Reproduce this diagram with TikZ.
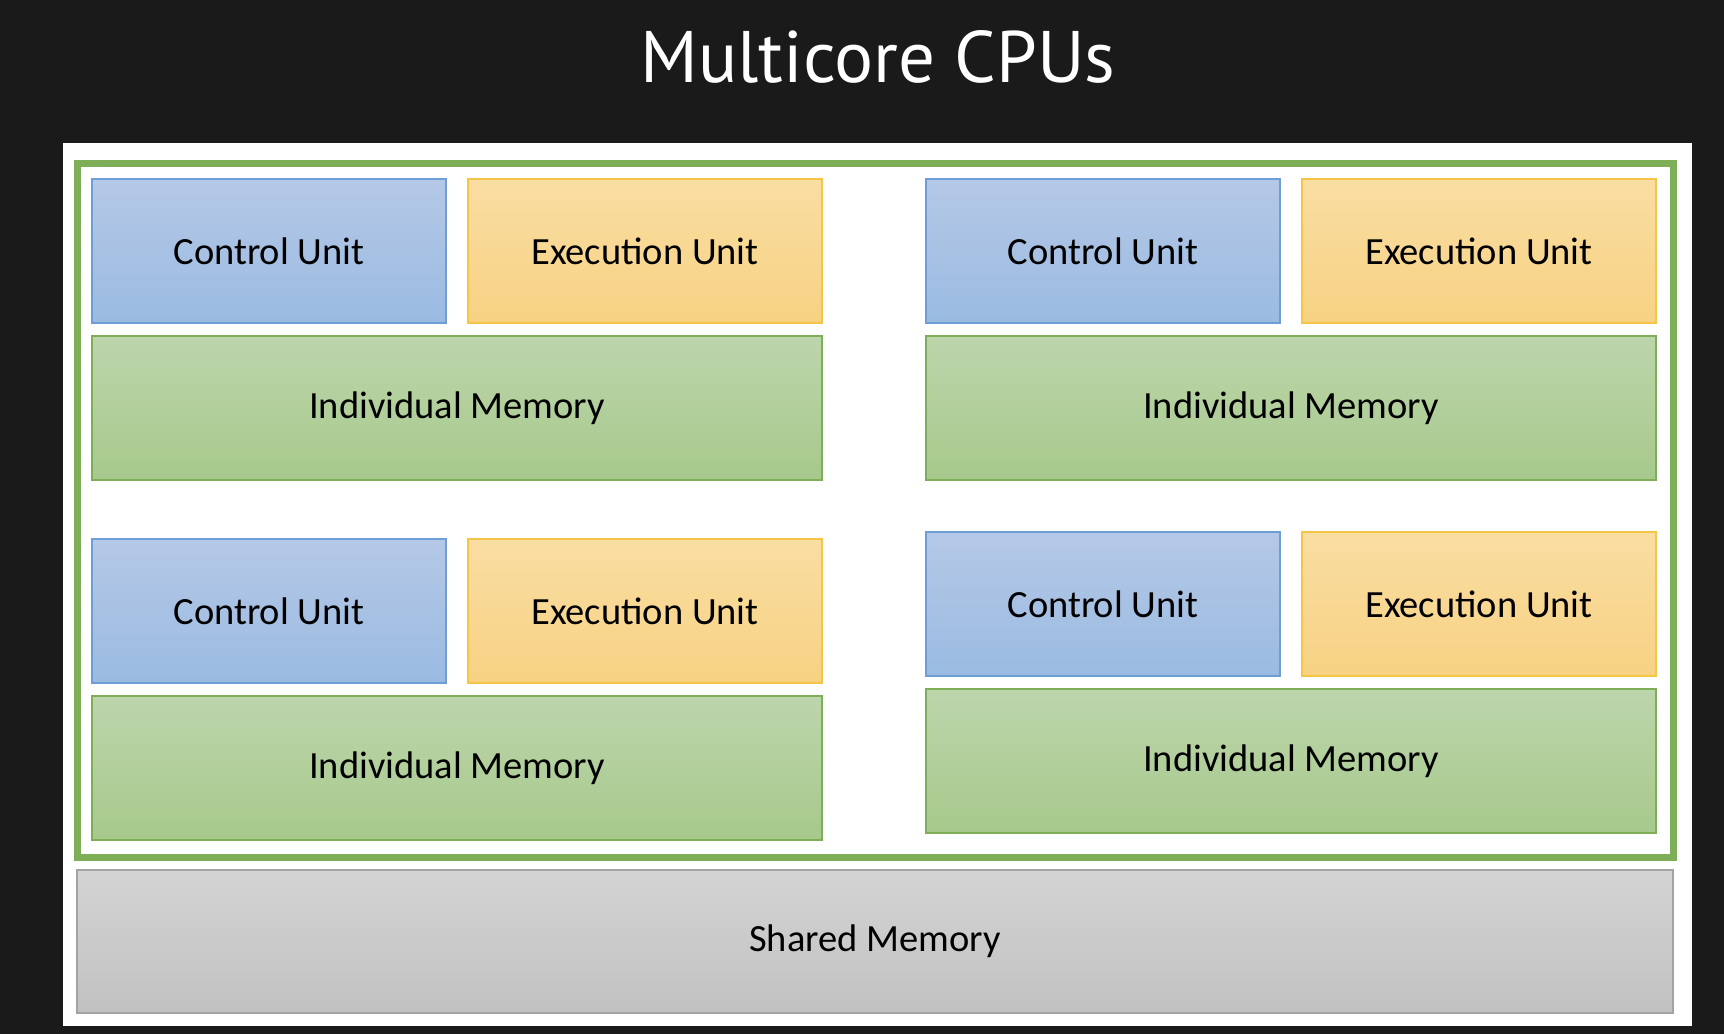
\documentclass[tikz,border=0pt]{standalone}
\usepackage{fontspec}
\setmainfont{Carlito}
\newfontfamily\titlefont{PT Sans}
\definecolor{bgdark}{HTML}{1A1A1A}
\definecolor{frameg}{HTML}{7EAE58}
\definecolor{cutop}{HTML}{B5C8E7}
\definecolor{cubot}{HTML}{9ABBE1}
\definecolor{cuedge}{HTML}{6F9DD6}
\definecolor{eutop}{HTML}{F9DDA2}
\definecolor{eubot}{HTML}{F7D283}
\definecolor{euedge}{HTML}{F5C646}
\definecolor{memtop}{HTML}{BCD5AB}
\definecolor{membot}{HTML}{A7C98C}
\definecolor{memedge}{HTML}{7EAE58}
\definecolor{shtop}{HTML}{D4D4D4}
\definecolor{shbot}{HTML}{C1C1C1}
\definecolor{shedge}{HTML}{A3A3A3}
\tikzset{
  unitbox/.style={rectangle, inner sep=0pt, line width=1.5pt, font=\fontsize{38.5}{46}\selectfont, text=black},
  cubox/.style={unitbox, draw=cuedge, top color=cutop, bottom color=cubot, minimum width=354pt, minimum height=144pt},
  eubox/.style={unitbox, draw=euedge, top color=eutop, bottom color=eubot, minimum width=354pt, minimum height=144pt},
  membox/.style={unitbox, draw=memedge, top color=memtop, bottom color=membot, minimum width=730pt, minimum height=144pt},
  sharedbox/.style={unitbox, draw=shedge, top color=shtop, bottom color=shbot, minimum width=1596pt, minimum height=143pt},
}
\begin{document}
\begin{tikzpicture}[x=1pt,y=-1pt]
\fill[bgdark] (0,0) rectangle (1724,1034);
\useasboundingbox (0,0) rectangle (1724,1034);
\node[anchor=base, text=white, inner sep=0pt, font=\titlefont\fontsize{73}{84}\selectfont] (title) at (878,82) {Multicore CPUs};
\fill[white] (63,143) rectangle (1692,1026);
\draw[frameg, line width=7pt] (77.5,163.5) rectangle (1673.5,857.5);
% top-left core
\node[cubox] (cu1) at (269,251) {Control Unit};
\node[eubox] (eu1) at (645,251) {Execution Unit};
\node[membox] (mem1) at (457,408) {Individual Memory};
% top-right core
\node[cubox] (cu2) at (1103,251) {Control Unit};
\node[eubox] (eu2) at (1479,251) {Execution Unit};
\node[membox] (mem2) at (1291,408) {Individual Memory};
% bottom-left core
\node[cubox] (cu3) at (269,611) {Control Unit};
\node[eubox] (eu3) at (645,611) {Execution Unit};
\node[membox] (mem3) at (457,768) {Individual Memory};
% bottom-right core
\node[cubox] (cu4) at (1103,604) {Control Unit};
\node[eubox] (eu4) at (1479,604) {Execution Unit};
\node[membox] (mem4) at (1291,761) {Individual Memory};
% shared memory
\node[sharedbox] (shared) at (875,941.5) {Shared Memory};
\end{tikzpicture}
\end{document}
